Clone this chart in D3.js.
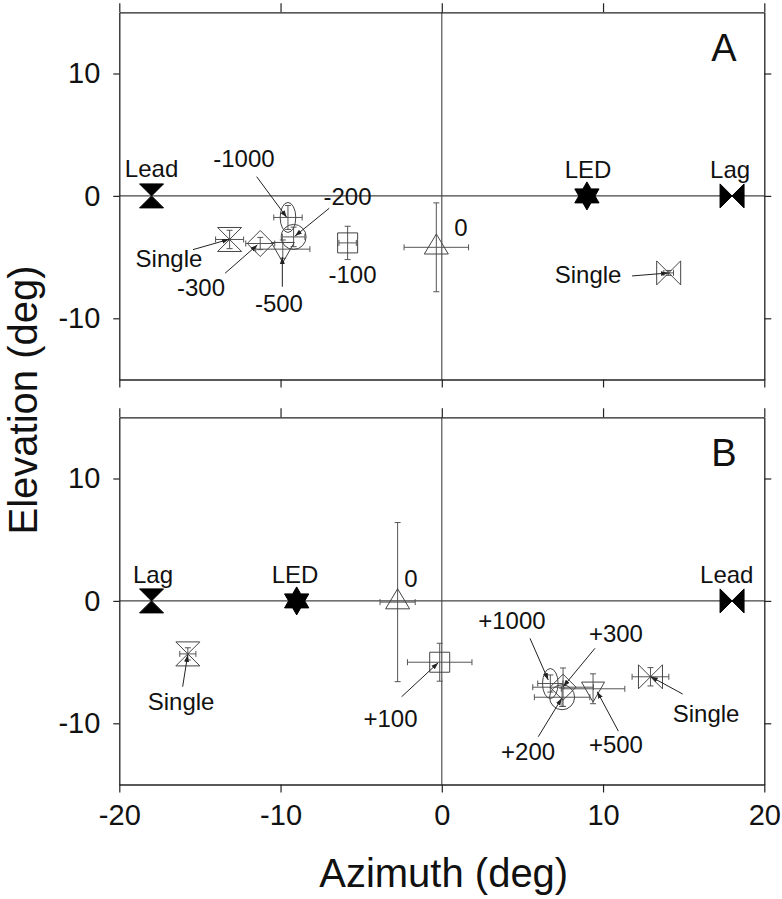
<!DOCTYPE html>
<html><head><meta charset="utf-8">
<script src="https://cdn.jsdelivr.net/npm/d3@7"></script>
<style>
body{margin:0;background:#fff}
text{font-family:"Liberation Sans",Arial,Helvetica,sans-serif;fill:#111}
</style>
</head><body>
<svg id="chart" width="782" height="899"></svg>
<script>
// ---------- data ----------
const xTicks = [-20, -10, 0, 10, 20];
const yTicks = [-10, 0, 10];

// speakers (filled symbols)
const speakerNames = ["Lead", "LED", "Lag"];
const speakerAzA = [-18, 9, 18];
const speakerAzB = [18, -9, -18];
const speakerEl = [0, 0, 0];

// panel A: lead-lag delays (negative)
const condA   = ["Single L", "-1000", "-500", "-300", "-200", "-100", "0", "Single R"];
const azA     = [-13.16, -9.54, -9.86, -11.26, -9.19, -5.84, -0.34, 14.07];
const elA     = [-3.56, -1.76, -4.35, -3.89, -3.35, -3.84, -4.2, -6.29];
const azErrA  = [0.87, 0.88, 1.68, 0.9, 0.7, 0.54, 2.0, 0.3];
const elErrA  = [0.75, 0.98, 0.75, 0.5, 0.8, 1.36, 3.63, 0.2];

// panel B: positive delays
const condB   = ["Single L", "0", "+100", "+1000", "+300", "+200", "+500", "Single R"];
const azB     = [-15.75, -2.74, -0.13, 6.73, 7.52, 7.46, 9.38, 12.94];
const elB     = [-4.33, -0.1, -5.01, -6.75, -7.05, -7.87, -7.18, -6.2];
const azErrB  = [0.5, 1.09, 2.0, 0.78, 1.88, 1.72, 1.97, 1.14];
const elErrB  = [0.5, 6.5, 1.55, 0.7, 1.57, 0.75, 1.22, 0.75];

// annotation labels (data units): text, x, y, leader from (x1,y1) to (x2,y2)
const annTextA = ["Lead", "LED", "Lag", "0", "Single", "Single", "-300", "-500", "-200", "-1000", "-100"];
const annXA    = [-18, 9.07, 17.88, 1.19, 9.07, -16.92, -14.93, -10.1, -5.85, -12.27, -5.54];
const annYA    = [1.55, 1.46, 1.46, -3.28, -7.12, -5.81, -8.15, -9.46, -0.74, 2.34, -7.09];
const leaderA  = [null, null, null, null,
  [11.8, -6.54, 14.03, -6.3],
  [-15.43, -4.39, -13.2, -3.55],
  [-13.44, -6.32, -11.44, -4.01],
  [-9.89, -7.42, -9.89, -4.99],
  [-6.98, -1.01, -9.1, -3.28],
  [-11.48, 1.57, -9.62, -1.75],
  null];

const annTextB = ["Lag", "LED", "Lead", "0", "Single", "Single", "+100", "+1000", "+300", "+200", "+500"];
const annXB    = [-17.91, -9.1, 17.67, -1.91, -16.17, 16.39, -3.18, 4.35, 10.8, 5.35, 10.8];
const annYB    = [1.49, 1.49, 1.44, 1.14, -8.91, -9.87, -10.28, -2.32, -3.33, -13.0, -12.45];
const leaderB  = [null, null, null, null,
  [-16.07, -7.01, -15.76, -4.42],
  [14.94, -7.61, 12.96, -6.19],
  [-2.49, -7.83, -0.22, -5.05],
  [5.47, -3.06, 6.6, -6.46],
  [9.5, -3.87, 7.53, -7.01],
  [5.98, -11.1, 7.44, -7.96],
  [10.95, -10.64, 9.64, -7.42]];

const panelLetters = ["A", "B"];
const letterX = 17.5, letterY = 11.0;

// ---------- shapes ----------
const shapeOf = {
  "Single L": "hourglassOpen", "Single R": "bowtieOpen",
  "-1000": "ellipse", "+1000": "ellipse",
  "-500": "triDown", "+500": "triDown",
  "-300": "diamond", "+300": "diamond",
  "-200": "circle", "+200": "circle",
  "-100": "square", "+100": "square",
  "0": "triUp"
};

function shapePath(kind) {
  const p = d3.path();
  switch (kind) {
    case "hourglass": case "hourglassOpen": {
      const w = 12, h = 12;
      p.moveTo(-w, -h); p.lineTo(w, -h); p.lineTo(-w, h); p.lineTo(w, h); p.closePath(); break;
    }
    case "bowtie": case "bowtieOpen": {
      const w = 12, h = 12;
      p.moveTo(-w, -h); p.lineTo(-w, h); p.lineTo(w, -h); p.lineTo(w, h); p.closePath(); break;
    }
    case "triUp": p.moveTo(0, -13.3); p.lineTo(12, 6.7); p.lineTo(-12, 6.7); p.closePath(); break;
    case "triDown": p.moveTo(0, 13.3); p.lineTo(11.5, -6.7); p.lineTo(-11.5, -6.7); p.closePath(); break;
    case "diamond": p.moveTo(0, -13); p.lineTo(13, 0); p.lineTo(0, 13); p.lineTo(-13, 0); p.closePath(); break;
    case "square": p.rect(-10, -10, 20, 20); break;
    case "circle": p.arc(0, 0, 12.5, 0, 2 * Math.PI); p.closePath(); break;
    case "star": {
      const R = 14, r = R / Math.sqrt(3);
      for (let i = 0; i < 12; i++) {
        const a = -Math.PI / 2 + i * Math.PI / 6, rr = i % 2 ? r : R;
        if (i === 0) p.moveTo(rr * Math.cos(a), rr * Math.sin(a)); else p.lineTo(rr * Math.cos(a), rr * Math.sin(a));
      }
      p.closePath(); break;
    }
  }
  return p.toString();
}

// ---------- drawing ----------
const svg = d3.select("#chart");
const defs = svg.append("defs");
defs.append("marker").attr("id", "arr").attr("viewBox", "0 0 10 10")
  .attr("refX", 10).attr("refY", 5).attr("markerWidth", 7).attr("markerHeight", 7)
  .attr("orient", "auto").append("path").attr("d", "M0,1.5L10,5L0,8.5Z").attr("fill", "#222");

const x = d3.scaleLinear().domain([-20, 20]).range([119.3, 764.3]);
const fmt = d => String(d);

const panels = [
  {top: 12.3, bottom: 379.5, az: azA, el: elA, azE: azErrA, elE: elErrA, cond: condA,
   spAz: speakerAzA, annT: annTextA, annX: annXA, annY: annYA, lead: leaderA, xLabels: false},
  {top: 417.3, bottom: 784.5, az: azB, el: elB, azE: azErrB, elE: elErrB, cond: condB,
   spAz: speakerAzB, annT: annTextB, annX: annXB, annY: annYB, lead: leaderB, xLabels: true}
];

panels.forEach((P, pi) => {
  const y = d3.scaleLinear().domain([-15, 15]).range([P.bottom, P.top]);
  const g = svg.append("g");

  // crosshair lines
  g.append("line").attr("x1", x(-20)).attr("x2", x(20)).attr("y1", y(0)).attr("y2", y(0))
    .attr("stroke", "#444").attr("stroke-width", 1.1);
  g.append("line").attr("x1", x(0)).attr("x2", x(0)).attr("y1", y(-15)).attr("y2", y(15))
    .attr("stroke", "#444").attr("stroke-width", 1.1);

  // axes (frame)
  const ax = [];
  ax.push(g.append("g").attr("transform", `translate(${x(-20)},0)`)
    .call(d3.axisLeft(y).tickValues(yTicks).tickSize(6).tickSizeOuter(0).tickPadding(13).tickFormat(fmt)));
  ax.push(g.append("g").attr("transform", `translate(${x(20)},0)`)
    .call(d3.axisRight(y).tickValues(yTicks).tickSize(7).tickSizeOuter(0).tickFormat("")));
  ax.push(g.append("g").attr("transform", `translate(0,${y(15)})`)
    .call(d3.axisTop(x).tickValues(xTicks).tickSize(9).tickSizeOuter(0).tickFormat("")));
  const bot = g.append("g").attr("transform", `translate(0,${y(-15)})`)
    .call(d3.axisBottom(x).tickValues(xTicks).tickSize(8).tickSizeOuter(0).tickPadding(12)
      .tickFormat(P.xLabels ? fmt : ""));
  ax.push(bot);
  ax.forEach(a => {
    a.select(".domain").attr("stroke", "#222").attr("stroke-width", 1.3);
    a.selectAll(".tick line").attr("stroke", "#222").attr("stroke-width", 1.2);
    a.selectAll("text").attr("font-size", 29).attr("fill", "#111")
      .attr("font-family", '"Liberation Sans",Arial,sans-serif');
  });

  // error bars
  const cap = 3;
  P.cond.forEach((c, i) => {
    const cx = x(P.az[i]), cy = y(P.el[i]);
    const x1 = x(P.az[i] - P.azE[i]), x2 = x(P.az[i] + P.azE[i]);
    const y1 = y(P.el[i] - P.elE[i]), y2 = y(P.el[i] + P.elE[i]);
    const eg = g.append("g").attr("stroke", "#555").attr("stroke-width", 1);
    eg.append("line").attr("x1", x1).attr("x2", x2).attr("y1", cy).attr("y2", cy);
    eg.append("line").attr("x1", x1).attr("x2", x1).attr("y1", cy - cap).attr("y2", cy + cap);
    eg.append("line").attr("x1", x2).attr("x2", x2).attr("y1", cy - cap).attr("y2", cy + cap);
    eg.append("line").attr("x1", cx).attr("x2", cx).attr("y1", y1).attr("y2", y2);
    eg.append("line").attr("x1", cx - cap).attr("x2", cx + cap).attr("y1", y1).attr("y2", y1);
    eg.append("line").attr("x1", cx - cap).attr("x2", cx + cap).attr("y1", y2).attr("y2", y2);
  });

  // open markers
  P.cond.forEach((c, i) => {
    const kind = shapeOf[c];
    const t = `translate(${x(P.az[i])},${y(P.el[i])})`;
    if (kind === "ellipse") {
      g.append("ellipse").attr("transform", t).attr("rx", 7.8).attr("ry", 15)
        .attr("fill", "none").attr("stroke", "#444").attr("stroke-width", 1);
    } else {
      g.append("path").attr("transform", t).attr("d", shapePath(kind))
        .attr("fill", "none").attr("stroke", "#444").attr("stroke-width", 1);
    }
  });

  // speakers (filled)
  speakerNames.forEach((s, i) => {
    const az = P.spAz[i];
    let kind;
    if (s === "LED") kind = "star";
    else kind = az < 0 ? "hourglass" : "bowtie";
    g.append("path").attr("transform", `translate(${x(az)},${y(speakerEl[i])})`)
      .attr("d", shapePath(kind)).attr("fill", "#000").attr("stroke", "#000").attr("stroke-width", 1);
  });

  // leader lines
  P.lead.forEach(l => {
    if (!l) return;
    g.append("line").attr("x1", x(l[0])).attr("y1", y(l[1])).attr("x2", x(l[2])).attr("y2", y(l[3]))
      .attr("stroke", "#222").attr("stroke-width", 1).attr("marker-end", "url(#arr)");
  });

  // annotation text
  P.annT.forEach((t, i) => {
    g.append("text").attr("x", x(P.annX[i])).attr("y", y(P.annY[i]))
      .attr("text-anchor", "middle").attr("font-size", 24).text(t);
  });

  // panel letter
  g.append("text").attr("x", x(letterX)).attr("y", y(letterY)).attr("text-anchor", "middle")
    .attr("font-size", 38).text(panelLetters[pi]);
});

// axis titles
svg.append("text").attr("x", 443.7).attr("y", 887).attr("text-anchor", "middle")
  .attr("font-size", 40).text("Azimuth (deg)");
svg.append("text").attr("transform", "translate(37,400) rotate(-90)").attr("text-anchor", "middle")
  .attr("font-size", 40).text("Elevation (deg)");
</script>
</body></html>
